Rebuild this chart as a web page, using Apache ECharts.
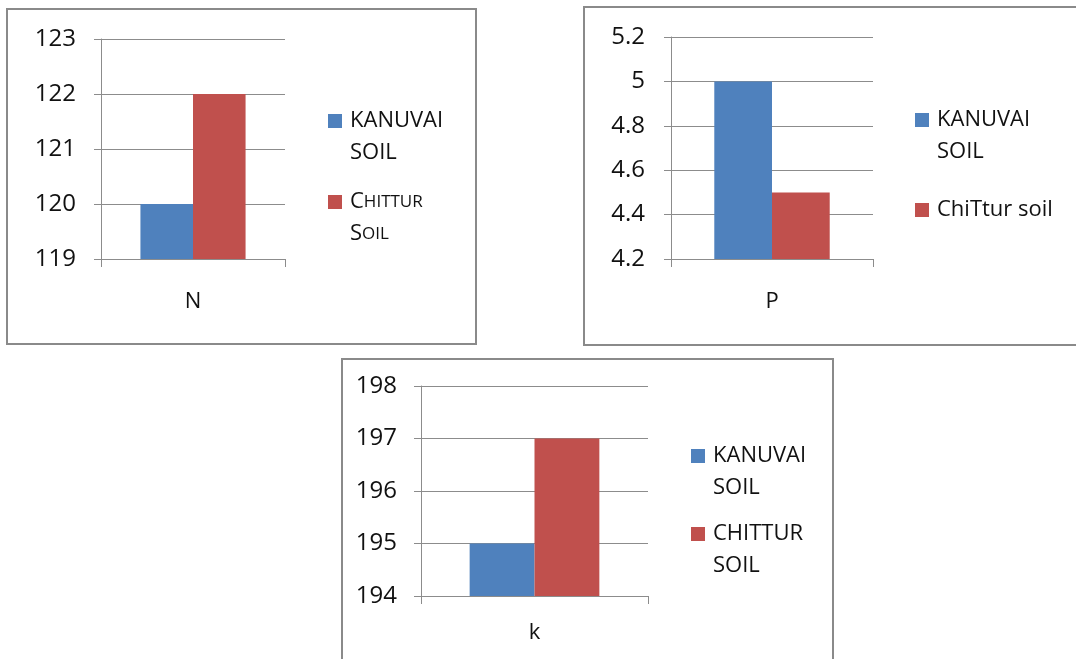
<!DOCTYPE html>
<html>
<head>
<meta charset="utf-8">
<title>N, P, K — Kanuvai and Chittur soil</title>
<script src="https://cdn.jsdelivr.net/npm/echarts@6/dist/echarts.min.js"></script>
<style>
  html, body { margin: 0; padding: 0; background: #fff; }
  #chart { width: 1076px; height: 659px; }
</style>
</head>
<body>
<div id="chart"></div>
<script>
// Nutrient categories, one panel each
const nutrients = ['N', 'P', 'k'];

// Measured values per soil (same order as nutrients)
const kanuvaiValues = [120, 5, 195];
const chitturValues = [122, 4.5, 197];

// Value-axis ranges per panel: [min, max, step]
const axisRanges = [
  [119, 123, 1],
  [4.2, 5.2, 0.2],
  [194, 198, 1]
];

// Legend wording per panel (the source charts label the soils differently)
const kanuvaiLabels = ['KANUVAI\nSOIL', 'KANUVAI\nSOIL', 'KANUVAI\nSOIL'];
const chitturLabels = ['{cap|C}{sc|HITTUR}\n{cap|S}{sc|OIL}', 'ChiTtur soil', 'CHITTUR\nSOIL'];

const BLUE = '#4f81bd';
const RED = '#c0504d';
const GRID_GRAY = '#8c8c8c';
const TEXT = '#111111';
const FONT = '"Open Sans", "Liberation Sans", sans-serif';

// Layout of each panel: plot rectangle, frame, legend anchor
const panels = [
  { grid: { left: 101, top: 39, width: 184, height: 220 },
    frame: { x: 7, y: 9, width: 469, height: 335 },
    labelMargin: 25, catMargin: 32,
    legend: { left: 328, top1: 114, top2: 195 } },
  { grid: { left: 671, top: 37, width: 202, height: 222 },
    frame: { x: 584, y: 7, width: 500, height: 338 },
    labelMargin: 26, catMargin: 32,
    legend: { left: 915, top1: 113, top2: 194 } },
  { grid: { left: 421, top: 386, width: 227, height: 210 },
    frame: { x: 342, y: 359, width: 491, height: 310 },
    labelMargin: 24, catMargin: 26,
    legend: { left: 691, top1: 449, top2: 527 } }
];

// A square marker with an invisible tail, so a two-line label lines up with its first line
const TALL_SQUARE = 'path://M0,0h14v14h-14z M0,46h0z';

const grids = [], xAxes = [], yAxes = [], series = [], legends = [], frames = [];

panels.forEach((p, i) => {
  grids.push(Object.assign({ containLabel: false }, p.grid));

  xAxes.push({
    type: 'category',
    gridIndex: i,
    data: [nutrients[i]],
    axisLine: { show: true, lineStyle: { color: GRID_GRAY, width: 1 } },
    axisTick: { show: true, length: 8, lineStyle: { color: GRID_GRAY } },
    axisLabel: { margin: p.catMargin, fontSize: 22, color: TEXT, fontFamily: FONT },
    splitLine: { show: false }
  });

  const [mn, mx, step] = axisRanges[i];
  yAxes.push({
    type: 'value',
    gridIndex: i,
    min: mn,
    max: mx,
    interval: step,
    axisLine: { show: true, lineStyle: { color: GRID_GRAY, width: 1 } },
    axisTick: { show: true, length: 7, lineStyle: { color: GRID_GRAY } },
    axisLabel: {
      margin: p.labelMargin, fontSize: 24, color: TEXT, fontFamily: FONT,
      formatter: v => String(Math.round(v * 10) / 10)
    },
    splitLine: { show: true, lineStyle: { color: GRID_GRAY, width: 1 } }
  });

  const kName = 'Kanuvai ' + nutrients[i];
  const cName = 'Chittur ' + nutrients[i];

  series.push({
    name: kName, type: 'bar', xAxisIndex: i, yAxisIndex: i,
    data: [kanuvaiValues[i]],
    barGap: 0, barCategoryGap: '42.86%',
    itemStyle: { color: BLUE },
    emphasis: { disabled: true }
  });
  series.push({
    name: cName, type: 'bar', xAxisIndex: i, yAxisIndex: i,
    data: [chitturValues[i]],
    barGap: 0, barCategoryGap: '42.86%',
    itemStyle: { color: RED },
    emphasis: { disabled: true }
  });

  const textStyle = {
    fontSize: 22, color: TEXT, fontFamily: FONT, lineHeight: 32,
    padding: [0, 0, 0, 3],
    rich: {
      cap: { fontSize: 22, color: TEXT, fontFamily: FONT, lineHeight: 32 },
      sc: { fontSize: 17, color: TEXT, fontFamily: FONT, lineHeight: 32 }
    }
  };

  const legendItems = [
    { name: kName, label: kanuvaiLabels[i], top: p.legend.top1 },
    { name: cName, label: chitturLabels[i], top: p.legend.top2 }
  ];
  legendItems.forEach(item => {
    const twoLines = item.label.indexOf('\n') >= 0;
    legends.push({
      left: p.legend.left - 5,
      top: item.top - 5 - (twoLines ? 9 : 0),
      orient: 'vertical',
      selectedMode: false,
      itemWidth: 14,
      itemHeight: twoLines ? 46 : 14,
      icon: twoLines ? TALL_SQUARE : 'rect',
      data: [item.name],
      formatter: () => item.label,
      textStyle: textStyle
    });
  });

  frames.push({
    type: 'rect',
    silent: true,
    shape: p.frame,
    style: { fill: 'none', stroke: '#8a8a8a', lineWidth: 2 },
    z: -1
  });
});

const chart = echarts.init(document.getElementById('chart'), null, { renderer: 'canvas' });
chart.setOption({
  backgroundColor: '#ffffff',
  animation: false,
  textStyle: { fontFamily: FONT },
  grid: grids,
  xAxis: xAxes,
  yAxis: yAxes,
  legend: legends,
  series: series,
  graphic: frames
});
</script>
</body>
</html>
